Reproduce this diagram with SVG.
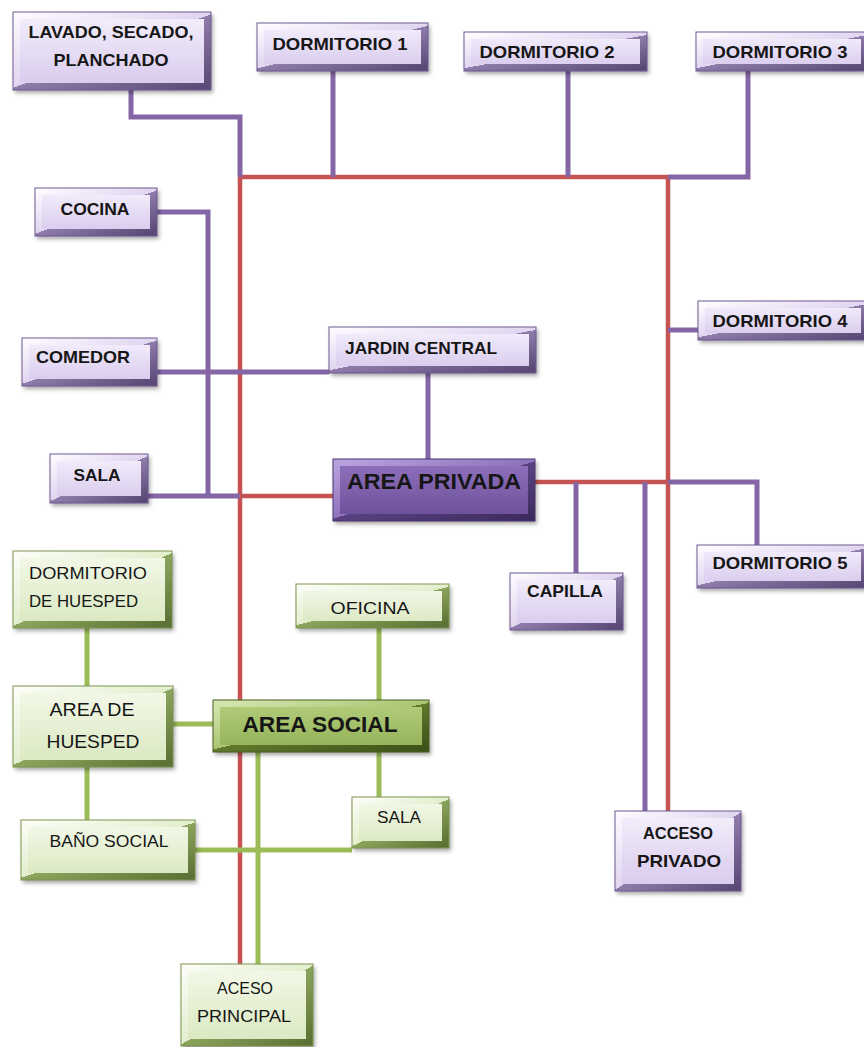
<svg xmlns="http://www.w3.org/2000/svg" width="864" height="1047" viewBox="0 0 864 1047">
<defs>
<linearGradient id="pf" x1="0" y1="0" x2="0" y2="1"><stop offset="0" stop-color="#f3eefb"/><stop offset="1" stop-color="#d8caed"/></linearGradient>
<linearGradient id="pbv" x1="0" y1="0" x2="1" y2="1"><stop offset="0" stop-color="#fcfaff"/><stop offset=".5" stop-color="#e0d5f0"/><stop offset=".5" stop-color="#8f7cab"/><stop offset="1" stop-color="#5a4976"/></linearGradient>
<linearGradient id="df" x1="0" y1="0" x2="0" y2="1"><stop offset="0" stop-color="#8e70bc"/><stop offset="1" stop-color="#6c4f99"/></linearGradient>
<linearGradient id="dbv" x1="0" y1="0" x2="1" y2="1"><stop offset="0" stop-color="#b9a3df"/><stop offset=".5" stop-color="#8d72ba"/><stop offset=".5" stop-color="#5a4282"/><stop offset="1" stop-color="#3d2b5e"/></linearGradient>
<linearGradient id="gf" x1="0" y1="0" x2="0" y2="1"><stop offset="0" stop-color="#f3f8e8"/><stop offset="1" stop-color="#dae8c1"/></linearGradient>
<linearGradient id="gbv" x1="0" y1="0" x2="1" y2="1"><stop offset="0" stop-color="#fbfdf6"/><stop offset=".5" stop-color="#e3eecd"/><stop offset=".5" stop-color="#8ca55d"/><stop offset="1" stop-color="#5b7134"/></linearGradient>
<linearGradient id="sf" x1="0" y1="0" x2="0" y2="1"><stop offset="0" stop-color="#b2cd7b"/><stop offset="1" stop-color="#93b258"/></linearGradient>
<linearGradient id="sbv" x1="0" y1="0" x2="1" y2="1"><stop offset="0" stop-color="#d4e6b0"/><stop offset=".5" stop-color="#a9c671"/><stop offset=".5" stop-color="#5f7a2e"/><stop offset="1" stop-color="#3e5219"/></linearGradient>
<filter id="ds" x="-10%" y="-20%" width="125%" height="150%"><feDropShadow dx="2" dy="3" stdDeviation="2" flood-color="#000" flood-opacity=".35"/></filter>
</defs>
<style>
.r{fill:none;stroke:#c55353;stroke-width:4.5}
.p{fill:none;stroke:#8466a6;stroke-width:5}
.g{fill:none;stroke:#9bbb59;stroke-width:5}
.bp{fill:url(#pf);stroke:url(#pbv);stroke-width:7;filter:url(#ds)}
.bd{fill:url(#df);stroke:url(#dbv);stroke-width:7;filter:url(#ds)}
.bg{fill:url(#gf);stroke:url(#gbv);stroke-width:7;filter:url(#ds)}
.bs{fill:url(#sf);stroke:url(#sbv);stroke-width:7;filter:url(#ds)}
.op{fill:none;stroke:#6f5a92;stroke-width:1}
.og{fill:none;stroke:#7d9450;stroke-width:1}
text{font-family:"Liberation Sans",Arial,sans-serif;fill:#161616;text-anchor:middle}
.tp{font-weight:bold;font-size:17px}
.tb{font-weight:bold;font-size:22px}
.tg{font-size:17px}
.th{font-size:19px}
</style>
<rect width="864" height="1047" fill="#ffffff"/>
<g id="connectors">
<path class="r" d="M240,177 H668 M240,177 V965 M668,177 V811 M240,496 H333 M535,482 H668"/>
<path class="p" d="M131,90 V117 H240 V177 M333,71 V177 M568,71 V177 M748,71 V177 H668 M157,212 H208 V496 M148,496 H240 M157,372 H329 M428,373 V459 M668,330 H698 M668,482 H757 V545 M576,482 V573 M645,482 V811"/>
<path class="g" d="M87,628 V686 M173,724 H213 M379,628 V700 M379,752 V797 M87,767 V820 M195,850 H352 M258,752 V964"/>
</g>
<g id="n-lavado"><rect class="bp" x="16.5" y="15.5" width="191" height="71"/><rect class="op" x="13" y="12" width="198" height="78"/><text class="tp" x="111" y="37.5" textLength="165" lengthAdjust="spacingAndGlyphs">LAVADO, SECADO,</text><text class="tp" x="111" y="65.5" textLength="115" lengthAdjust="spacingAndGlyphs">PLANCHADO</text></g>
<g id="n-dorm1"><rect class="bp" x="260.5" y="26.5" width="164" height="41"/><rect class="op" x="257" y="23" width="171" height="48"/><text class="tp" x="340" y="49.5" textLength="135" lengthAdjust="spacingAndGlyphs">DORMITORIO 1</text></g>
<g id="n-dorm2"><rect class="bp" x="467.5" y="35.5" width="176" height="32"/><rect class="op" x="464" y="32" width="183" height="39"/><text class="tp" x="547" y="57.5" textLength="135" lengthAdjust="spacingAndGlyphs">DORMITORIO 2</text></g>
<g id="n-dorm3"><rect class="bp" x="699.5" y="35.5" width="165" height="32"/><rect class="op" x="696" y="32" width="172" height="39"/><text class="tp" x="780" y="57.5" textLength="135" lengthAdjust="spacingAndGlyphs">DORMITORIO 3</text></g>
<g id="n-cocina"><rect class="bp" x="38.5" y="191.5" width="115" height="41"/><rect class="op" x="35" y="188" width="122" height="48"/><text class="tp" x="95" y="214.5" textLength="69" lengthAdjust="spacingAndGlyphs">COCINA</text></g>
<g id="n-comedor"><rect class="bp" x="25.5" y="341.5" width="128" height="41"/><rect class="op" x="22" y="338" width="135" height="48"/><text class="tp" x="83" y="362.5" textLength="94" lengthAdjust="spacingAndGlyphs">COMEDOR</text></g>
<g id="n-jardin"><rect class="bp" x="332.5" y="330.5" width="200" height="39"/><rect class="op" x="329" y="327" width="207" height="46"/><text class="tp" x="421" y="353.5" textLength="152" lengthAdjust="spacingAndGlyphs">JARDIN CENTRAL</text></g>
<g id="n-sala-p"><rect class="bp" x="53.5" y="457.5" width="91" height="42"/><rect class="op" x="50" y="454" width="98" height="49"/><text class="tp" x="97" y="480.5" textLength="47" lengthAdjust="spacingAndGlyphs">SALA</text></g>
<g id="n-area-privada"><rect class="bd" x="336.5" y="462.5" width="195" height="55"/><rect class="op" x="333" y="459" width="202" height="62" style="stroke:#4a3570"/><text class="tb" x="434" y="489" textLength="174" lengthAdjust="spacingAndGlyphs">AREA PRIVADA</text></g>
<g id="n-dorm4"><rect class="bp" x="701.5" y="304.5" width="163" height="32"/><rect class="op" x="698" y="301" width="170" height="39"/><text class="tp" x="780" y="326.5" textLength="135" lengthAdjust="spacingAndGlyphs">DORMITORIO 4</text></g>
<g id="n-dorm5"><rect class="bp" x="700.5" y="548.5" width="164" height="36"/><rect class="op" x="697" y="545" width="171" height="43"/><text class="tp" x="780" y="568.5" textLength="135" lengthAdjust="spacingAndGlyphs">DORMITORIO 5</text></g>
<g id="n-capilla"><rect class="bp" x="513.5" y="576.5" width="106" height="50"/><rect class="op" x="510" y="573" width="113" height="57"/><text class="tp" x="565" y="596.5" textLength="76" lengthAdjust="spacingAndGlyphs">CAPILLA</text></g>
<g id="n-acceso-privado"><rect class="bp" x="618.5" y="814.5" width="119" height="73"/><rect class="op" x="615" y="811" width="126" height="80"/><text class="tp" x="678" y="838.5" textLength="70" lengthAdjust="spacingAndGlyphs">ACCESO</text><text class="tp" x="679" y="866.5" textLength="84" lengthAdjust="spacingAndGlyphs">PRIVADO</text></g>
<g id="n-dorm-huesped"><rect class="bg" x="16.5" y="554.5" width="152" height="70"/><rect class="og" x="13" y="551" width="159" height="77"/><text class="tg" x="29" y="578.5" style="text-anchor:start" textLength="118" lengthAdjust="spacingAndGlyphs">DORMITORIO</text><text class="tg" x="29" y="606.5" style="text-anchor:start" textLength="109" lengthAdjust="spacingAndGlyphs">DE HUESPED</text></g>
<g id="n-oficina"><rect class="bg" x="299.5" y="587.5" width="146" height="37"/><rect class="og" x="296" y="584" width="153" height="44"/><text class="tg" x="370" y="613.5" textLength="79" lengthAdjust="spacingAndGlyphs">OFICINA</text></g>
<g id="n-area-huesped"><rect class="bg" x="16.5" y="689.5" width="153" height="74"/><rect class="og" x="13" y="686" width="160" height="81"/><text class="th" x="92" y="715.5" textLength="85" lengthAdjust="spacingAndGlyphs">AREA DE</text><text class="th" x="93" y="747.5" textLength="93" lengthAdjust="spacingAndGlyphs">HUESPED</text></g>
<g id="n-area-social"><rect class="bs" x="216.5" y="703.5" width="209" height="45"/><rect class="og" x="213" y="700" width="216" height="52" style="stroke:#4a5f22"/><text class="tb" x="320" y="731.5" textLength="155" lengthAdjust="spacingAndGlyphs">AREA SOCIAL</text></g>
<g id="n-sala-g"><rect class="bg" x="355.5" y="800.5" width="90" height="44"/><rect class="og" x="352" y="797" width="97" height="51"/><text class="tg" x="399" y="822.5" textLength="44" lengthAdjust="spacingAndGlyphs">SALA</text></g>
<g id="n-bano-social"><rect class="bg" x="24.5" y="823.5" width="167" height="53"/><rect class="og" x="21" y="820" width="174" height="60"/><text class="tg" x="109" y="846.5" textLength="119" lengthAdjust="spacingAndGlyphs">BAÑO SOCIAL</text></g>
<g id="n-aceso-principal"><rect class="bg" x="184.5" y="967.5" width="125" height="75"/><rect class="og" x="181" y="964" width="132" height="82"/><text class="tg" x="245" y="993.5" textLength="56" lengthAdjust="spacingAndGlyphs">ACESO</text><text class="tg" x="244" y="1021.5" textLength="94" lengthAdjust="spacingAndGlyphs">PRINCIPAL</text></g>
</svg>
